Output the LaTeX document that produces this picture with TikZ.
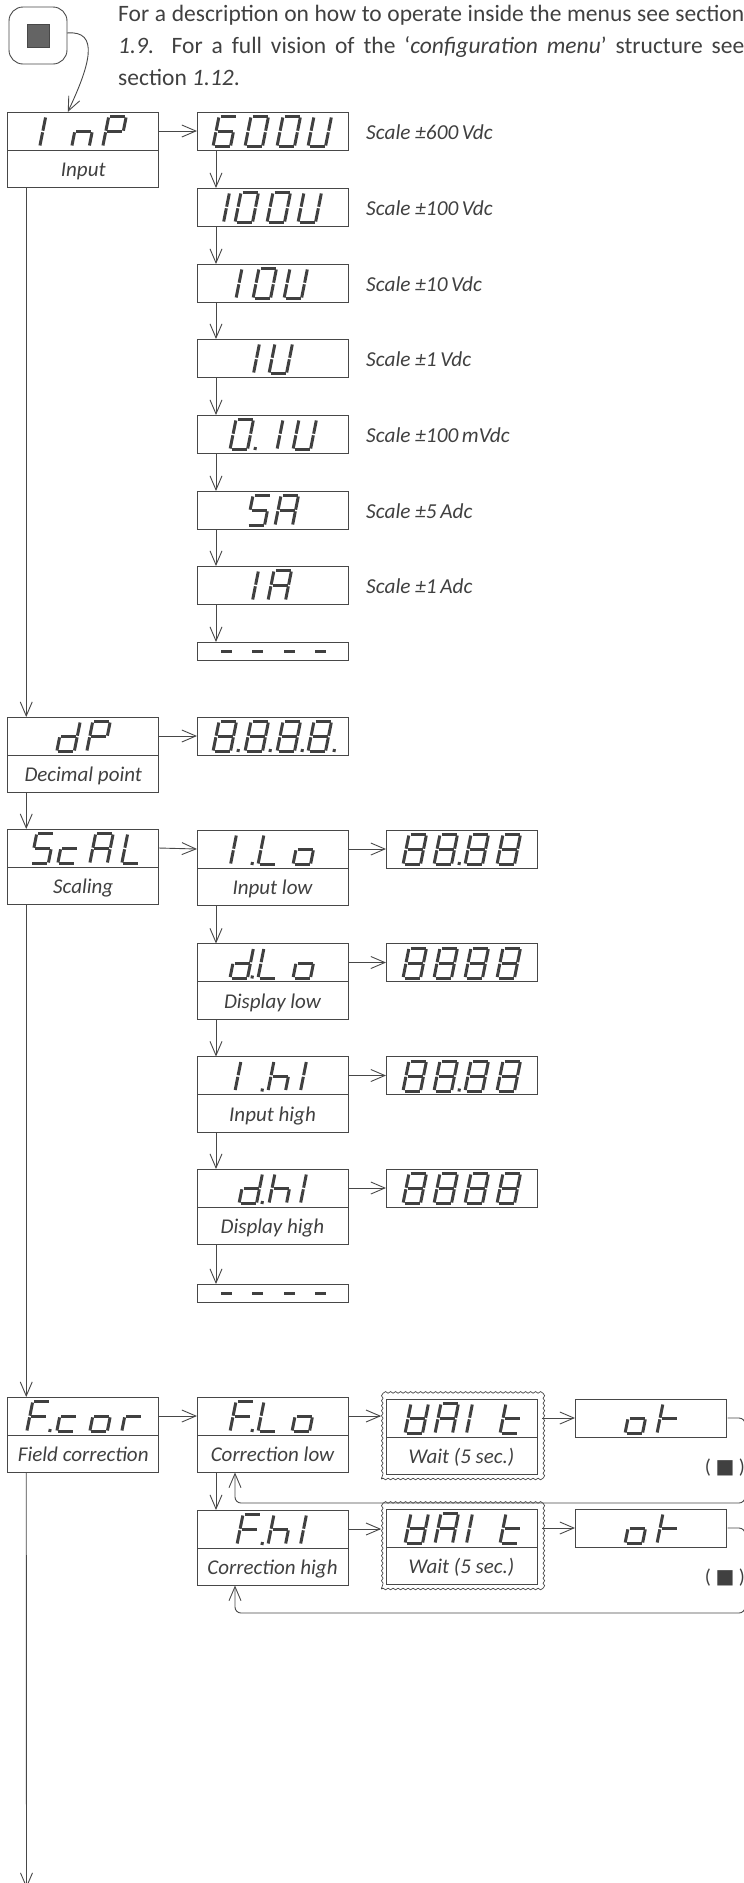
\documentclass[tikz,border=0pt]{standalone}
\usepackage{fontspec}
\setmainfont{Carlito}
\newfontfamily\symfont{DejaVu Sans}
\usetikzlibrary{arrows.meta, positioning, calc, fit, decorations.pathmorphing}
\definecolor{mydark}{RGB}{64,64,64}
\definecolor{myline}{RGB}{72,72,72}
\definecolor{mykey}{RGB}{100,100,100}
\tikzset{
  lcd/.style={rectangle, draw=myline, minimum width=151pt, minimum height=38pt,
    inner sep=0pt, outer sep=0pt, line width=0.9pt},
  lcdthin/.style={lcd, minimum height=18pt},
  lab/.style={rectangle, draw=myline, minimum width=151pt, minimum height=37.5pt,
    inner sep=0pt, outer sep=0pt, line width=0.9pt, text=mydark, text height=18pt, text depth=2pt,
    font=\fontsize{21}{24}\selectfont\itshape},
  note/.style={anchor=west, inner sep=0pt, text=mydark, yshift=-1.5pt,
    font=\fontsize{21.3}{24}\selectfont\itshape},
  para/.style={anchor=north west, inner sep=0pt, text width=626pt, align=justify, text=mydark,
    font=\fontsize{23.5}{32}\selectfont},
  keypair/.style={anchor=center, inner sep=0pt, text=mydark, font=\fontsize{20}{22}\selectfont},
  keybox/.style={rectangle, draw=myline, rounded corners=14pt, minimum width=58pt,
    minimum height=57pt, outer sep=0pt, line width=0.9pt},
  keysq/.style={rectangle, draw=myline, fill=mykey, minimum size=22.5pt, inner sep=0pt},
  waitframe/.style={rectangle, draw=myline, inner sep=4.5pt, line width=0.7pt, decorate,
    decoration={snake, amplitude=0.8pt, segment length=5pt}},
  arrow/.style={-{Straight Barb[length=14pt, width=12pt]}, color=myline, line width=0.9pt},
  back/.style={arrow, rounded corners=6pt},
  segline/.style={color=mydark, line width=3pt}
}
% segments of one digit, origin at its lower left
\newcommand{\defseg}[2]{\expandafter\def\csname sg#1\endcsname{#2}}
\defseg{a}{(1.5,-30) -- (16.5,-30)}
\defseg{b}{(17.5,-29) -- (17.5,-15.8)}
\defseg{c}{(17.5,-14.2) -- (17.5,-1)}
\defseg{d}{(1.5,0) -- (16.5,0)}
\defseg{e}{(0,-14.2) -- (0,-1)}
\defseg{f}{(0,-29) -- (0,-15.8)}
\defseg{g}{(1.5,-15) -- (16.5,-15)}
\defseg{m}{(1,-5.5) -- (12,-5.5)}
\defseg{p}{(0,-2.5) -- (0,0.5)}
% glyphs of the display
\newcommand{\defglyph}[2]{\expandafter\def\csname gl#1\endcsname{#2}}
\defglyph{0}{a,b,c,d,e,f}
\defglyph{5}{a,f,g,c,d}
\defglyph{6}{a,f,g,e,c,d}
\defglyph{8}{a,b,c,d,e,f,g}
\defglyph{A}{a,b,c,e,f,g}
\defglyph{F}{a,f,g,e}
\defglyph{I}{b,c}
\defglyph{L}{f,e,d}
\defglyph{P}{a,b,f,g,e}
\defglyph{U}{b,c,d,e,f}
\defglyph{W}{b,c,d,e,f,g}
\defglyph{c}{g,e,d}
\defglyph{d}{b,c,d,e,g}
\defglyph{h}{f,e,g,c}
\defglyph{k}{f,e,g}
\defglyph{n}{e,g,c}
\defglyph{o}{c,d,e,g}
\defglyph{r}{e,g}
\defglyph{t}{f,e,g,d}
\defglyph{m}{m}
\defglyph{p}{p}
% #1 box, #2 list of glyph/offset from the left side of the box
\newcommand{\lcdtext}[2]{%
  \foreach \g/\gx in {#2} {
    \begin{scope}[shift={($(#1.south west)+(\gx,-3.5)$)}, xslant=0.2]
      \edef\seglist{\csname gl\g\endcsname}
      \foreach \s in \seglist {
        \expandafter\let\expandafter\sgpath\csname sg\s\endcsname
        \draw[segline] \sgpath;
      }
    \end{scope}
  }
}
\begin{document}
\begin{tikzpicture}[x=1pt, y=-1pt]
  \useasboundingbox (0,0) rectangle (744,1883);
  % Intro text and key
  \node[para] (intro) at (118,4.8) {For a description on how to operate inside the menus see \mbox{section}\linebreak \textit{1.9}. For a full vision of the ‘\textit{configuration menu}’ structure see\linebreak section \textit{1.12}.};
  \node[keybox] (key) at (38,35.5) {};
  \node[keysq] (keysq) at (key) {};
  % Input
  \node[lcd] (inp) at (83.25,131) {};
  \node[lab, below=0pt of inp] (inplab) {Input};
  \lcdtext{inp}{I/14.5,n/64,P/95}
  \node[lcd] (s600) at (272.5,131) {};
  \node[lcd] (s100) at (272.5,207) {};
  \node[lcd] (s10) at (272.5,283) {};
  \node[lcd] (s1) at (272.5,358) {};
  \node[lcd] (s01) at (272.5,434) {};
  \node[lcd] (s5a) at (272.5,510) {};
  \node[lcd] (s1a) at (272.5,585) {};
  \node[lcdthin] (send) at (272.5,651) {};
  \lcdtext{s600}{6/16,0/48,0/80,U/111}
  \lcdtext{s100}{I/9,0/38,0/70,U/101}
  \lcdtext{s10}{I/21.5,0/56,U/87}
  \lcdtext{s1}{I/39,U/72}
  \lcdtext{s01}{0/33,p/58,I/62.5,U/96}
  \lcdtext{s5a}{5/50,A/78}
  \lcdtext{s1a}{I/38,A/71}
  \lcdtext{send}{m/22,m/53,m/85,m/116}
  \node[note, right=18pt of s600] (n600) {Scale ±600\,Vdc};
  \node[note, right=18pt of s100] (n100) {Scale ±100\,Vdc};
  \node[note, right=18pt of s10] (n10) {Scale ±10\,Vdc};
  \node[note, right=18pt of s1] (n1) {Scale ±1\,Vdc};
  \node[note, right=18pt of s01] (n01) {Scale ±100\,mVdc};
  \node[note, right=18pt of s5a] (n5a) {Scale ±5\,Adc};
  \node[note, right=18pt of s1a] (n1a) {Scale ±1\,Adc};
  % Decimal point
  \node[lcd] (dp) at (83.25,736) {};
  \node[lab, below=0pt of dp] (dplab) {Decimal point};
  \lcdtext{dp}{d/49,P/79}
  \node[lcd] (dpval) at (272.5,736) {};
  \lcdtext{dpval}{8/16,p/41,8/48,p/73,8/80,p/105,8/111,p/137}
  % Scaling
  \node[lcd] (scal) at (83.25,848) {};
  \node[lab, below=0pt of scal] (scallab) {Scaling};
  \lcdtext{scal}{5/23,c/50,A/82,L/114}
  \node[lcd] (ilo) at (272.5,849) {};
  \node[lab, below=0pt of ilo] (ilolab) {Input low};
  \lcdtext{ilo}{I/16,p/55,L/61,o/96}
  \node[lcd] (dlo) at (272.5,962.5) {};
  \node[lab, below=0pt of dlo] (dlolab) {Display low};
  \lcdtext{dlo}{d/33,p/55,L/61,o/96}
  \node[lcd] (ihi) at (272.5,1075.5) {};
  \node[lab, below=0pt of ihi] (ihilab) {Input high};
  \lcdtext{ihi}{I/20.5,p/65,h/71,I/86}
  \node[lcd] (dhi) at (272.5,1188) {};
  \node[lab, below=0pt of dhi] (dhilab) {Display high};
  \lcdtext{dhi}{d/42,p/65,h/72,I/86}
  \node[lcdthin] (scend) at (272.5,1293) {};
  \lcdtext{scend}{m/22,m/53,m/85,m/116}
  \node[lcd] (vilo) at (461.5,849) {};
  \lcdtext{vilo}{8/17,8/48,p/73,8/79,8/111}
  \node[lcd] (vdlo) at (461.5,962.5) {};
  \lcdtext{vdlo}{8/17,8/48,8/79,8/111}
  \node[lcd] (vihi) at (461.5,1075.5) {};
  \lcdtext{vihi}{8/17,8/48,p/73,8/79,8/111}
  \node[lcd] (vdhi) at (461.5,1188) {};
  \lcdtext{vdhi}{8/17,8/48,8/79,8/111}
  % Field correction
  \node[lcd] (fcor) at (83.25,1416) {};
  \node[lab, below=0pt of fcor] (fcorlab) {Field correction};
  \lcdtext{fcor}{F/19,p/42,c/49,o/82,r/114}
  \node[lcd] (flo) at (272.5,1416) {};
  \node[lab, below=0pt of flo] (flolab) {Correction low};
  \lcdtext{flo}{F/33,p/55,L/61,o/95}
  \node[lcd] (fhi) at (272.5,1529) {};
  \node[lab, below=0pt of fhi] (fhilab) {Correction high};
  \lcdtext{fhi}{F/40,p/65,h/71,I/86}
  \node[lcd] (wlo) at (461.5,1418) {};
  \node[lab, below=0pt of wlo] (wlolab) {Wait (5 sec.)};
  \lcdtext{wlo}{W/19,A/49,I/63,t/114}
  \node[waitframe, fit=(wlo)(wlolab)] (wlofr) {};
  \node[lcd] (whi) at (461.5,1528) {};
  \node[lab, below=0pt of whi] (whilab) {Wait (5 sec.)};
  \lcdtext{whi}{W/19,A/49,I/63,t/114}
  \node[waitframe, fit=(whi)(whilab)] (whifr) {};
  \node[lcd] (oklo) at (650.5,1418) {};
  \lcdtext{oklo}{o/50,k/82}
  \node[lcd] (okhi) at (650.5,1528) {};
  \lcdtext{okhi}{o/50,k/82}
  \node[keypair] (plo) at (725,1468) {( {\symfont ■} )};
  \node[keypair] (phi) at (725,1578) {( {\symfont ■} )};
  % Horizontal connectors
  \foreach \a/\b in {inp/s600,dp/dpval,scal/ilo,ilo/vilo,dlo/vdlo,ihi/vihi,dhi/vdhi,fcor/flo}
    \draw[arrow] (\a.east) -- (\b.west);
  \draw[arrow] (flo.east) -- (wlofr.west |- flo.east);
  \draw[arrow] (fhi.east) -- (whifr.west |- fhi.east);
  \draw[arrow] (wlofr.east |- wlo.east) -- (oklo.west);
  \draw[arrow] (whifr.east |- whi.east) -- (okhi.west);
  % Vertical connectors
  \foreach \a/\b in {s600/s100,s100/s10,s10/s1,s1/s01,s01/s5a,s5a/s1a,s1a/send}
    \draw[arrow] ([xshift=19pt]\a.south west) -- ([xshift=19pt]\b.north west);
  \foreach \a/\b in {ilolab/dlo,dlolab/ihi,ihilab/dhi,dhilab/scend,flolab/fhi}
    \draw[arrow] ([xshift=19pt]\a.south west) -- ([xshift=19pt]\b.north west);
  \foreach \a/\b in {inplab/dp,dplab/scal,scallab/fcor}
    \draw[arrow] ([xshift=18.5pt]\a.south west) -- ([xshift=18.5pt]\b.north west);
  \coordinate (fcorend) at (26.5,1888);
  \draw[arrow] ([xshift=18.5pt]fcorlab.south west) -- (fcorend);
  % Key to first menu
  \draw[arrow] ([yshift=2.5pt]key.east) .. controls (100,30) and (90,65) .. ([xshift=60pt]inp.north west);
  % Return lines
  \coordinate (rlo) at (745,1503);
  \coordinate (rhi) at (745,1613);
  \draw[back] ([xshift=1.5pt]oklo.east) -- (rlo |- oklo.east) -- (rlo) -- ([xshift=38pt]flolab.south west |- rlo) -- ([xshift=38pt]flolab.south west);
  \draw[back] ([xshift=1.5pt]okhi.east) -- (rhi |- okhi.east) -- (rhi) -- ([xshift=38pt]fhilab.south west |- rhi) -- ([xshift=38pt]fhilab.south west);
\end{tikzpicture}
\end{document}
